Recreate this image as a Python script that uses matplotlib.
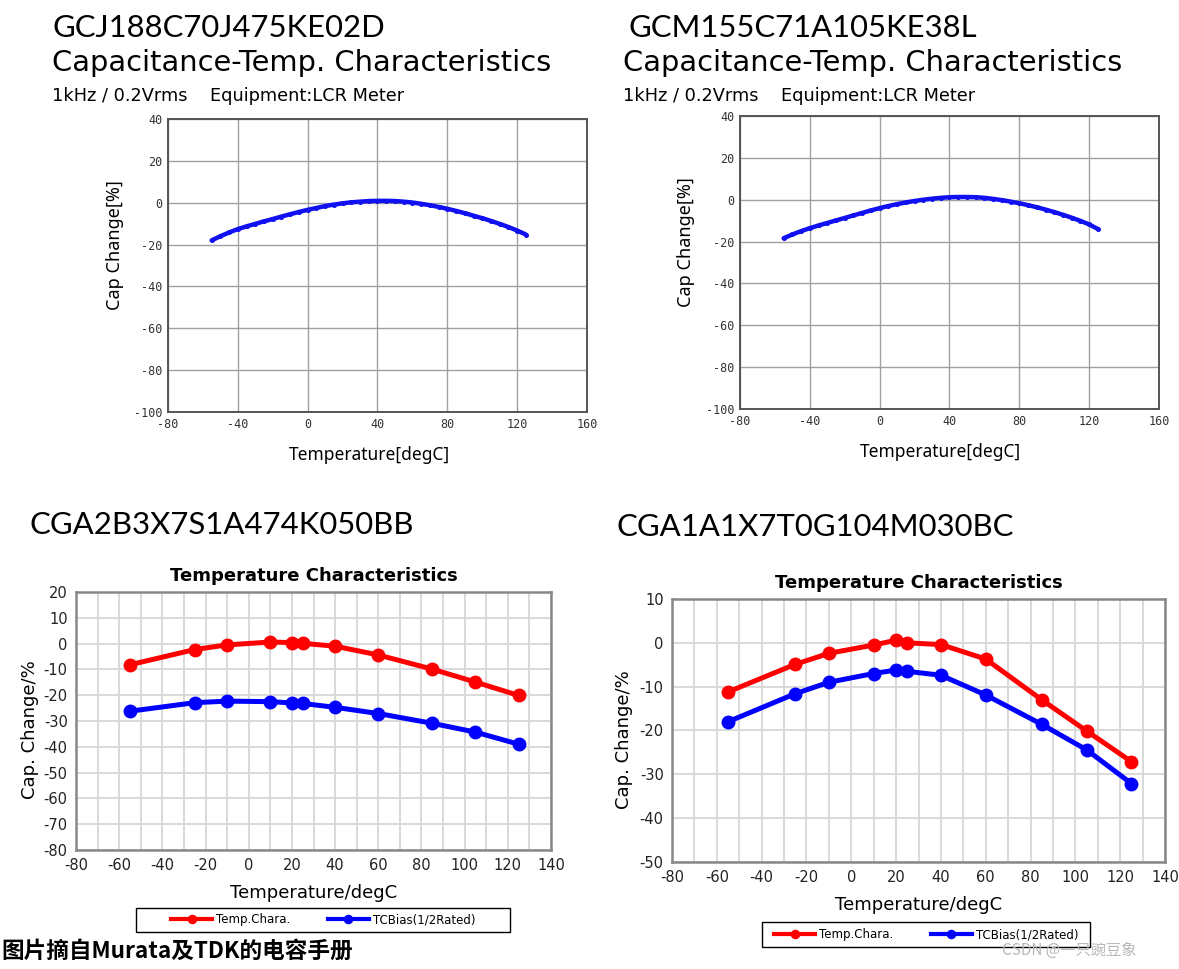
import matplotlib
matplotlib.use("Agg")
import matplotlib.pyplot as plt
from matplotlib.patches import Rectangle
import numpy as np

plt.rcParams['axes.unicode_minus'] = False

W, H = 1179, 969

# ---- data ----
temp_fine = [-55, -50, -45, -40, -35, -30, -25, -20, -15, -10, -5, 0, 5, 10, 15, 20,
             25, 30, 35, 40, 45, 50, 55, 60, 65, 70, 75, 80, 85, 90, 95, 100, 105,
             110, 115, 120, 125]
gcj_change = [-18.0, -16.0, -14.2, -12.6, -11.3, -10.1, -8.9, -7.8, -6.6, -5.5, -4.4,
              -3.4, -2.5, -1.6, -0.9, -0.3, 0.2, 0.5, 0.8, 0.9, 0.9, 0.8, 0.5, 0.1,
              -0.5, -1.2, -2.0, -2.9, -3.9, -5.0, -6.2, -7.4, -8.7, -10.1, -11.6,
              -13.3, -15.2]
gcm_change = [-18.4, -16.6, -15.0, -13.6, -12.3, -11.1, -9.9, -8.7, -7.5, -6.3, -5.1,
              -4.0, -3.0, -2.1, -1.3, -0.6, 0.0, 0.5, 0.9, 1.2, 1.3, 1.3, 1.2, 0.9,
              0.4, -0.2, -0.9, -1.7, -2.6, -3.6, -4.7, -5.9, -7.2, -8.6, -10.1,
              -11.8, -14.0]

temp_pts = [-55, -25, -10, 10, 20, 25, 40, 60, 85, 105, 125]
cga2_temp = [-8.2, -2.3, -0.5, 0.6, 0.4, 0.1, -1.0, -4.4, -9.9, -14.9, -20.1]
cga2_bias = [-26.2, -22.9, -22.3, -22.5, -23.0, -23.2, -24.7, -27.1, -30.9, -34.3, -39.0]
cga1_temp = [-11.2, -4.9, -2.4, -0.5, 0.6, 0.0, -0.4, -3.7, -13.0, -20.1, -27.1]
cga1_bias = [-18.0, -11.6, -9.0, -7.0, -6.2, -6.5, -7.4, -11.9, -18.6, -24.4, -32.1]

top_names = ["GCJ188C70J475KE02D", "GCM155C71A105KE38L"]
bottom_names = ["CGA2B3X7S1A474K050BB", "CGA1A1X7T0G104M030BC"]
legend_labels = ["Temp.Chara.", "TCBias(1/2Rated)"]


def rect(x0, y0, x1, y1):
    return [x0 / W, 1 - y1 / H, (x1 - x0) / W, (y1 - y0) / H]


def ftext(x, y, s, **kw):
    fig.text(x / W, 1 - y / H, s, **kw)


fig = plt.figure(figsize=(W / 100, H / 100), dpi=100)

# ============================================================================
# Murata style (top row)
# ============================================================================
top_boxes = [(168, 119, 587, 412), (740, 116, 1159, 409)]
top_text_x = [52, 623]
top_ylab = [(115, 245), (686, 242)]
top_xlab = [(369, 455), (940, 452)]
top_curves = [gcj_change, gcm_change]
for i in range(2):
    x0, y0, x1, y1 = top_boxes[i]
    ax = fig.add_axes(rect(x0, y0, x1, y1))
    ax.plot(temp_fine, top_curves[i], color='#1010f2', lw=3.2, marker='o', ms=2.6,
            solid_capstyle='round')
    ax.set_xlim(-80, 160)
    ax.set_ylim(-100, 40)
    ax.set_xticks(np.arange(-80, 161, 40))
    ax.set_yticks(np.arange(-100, 41, 20))
    ax.grid(True, color='#a0a0a0', lw=1)
    ax.set_axisbelow(True)
    ax.tick_params(length=0, labelsize=8.5, labelcolor='#333333', pad=4)
    for lab in ax.get_xticklabels() + ax.get_yticklabels():
        lab.set_family('DejaVu Sans Mono')
    for sp in ax.spines.values():
        sp.set_color('#555555')
        sp.set_linewidth(1.4)
    ax.set_ylabel('Cap Change[%]', fontsize=13, family='Noto Sans')
    ax.set_xlabel('Temperature[degC]', fontsize=12.5, family='Noto Sans')
    ax.yaxis.set_label_coords((top_ylab[i][0] - x0) / (x1 - x0),
                              (y1 - top_ylab[i][1]) / (y1 - y0))
    ax.xaxis.set_label_coords((top_xlab[i][0] - x0) / (x1 - x0),
                              (y1 - top_xlab[i][1]) / (y1 - y0))
    ax.xaxis.label.set_va('center')
    ax.yaxis.label.set_va('center')

    tx = top_text_x[i] + (5 if i == 1 else 0)
    ftext(tx, 28, top_names[i], fontsize=22.3, family='Lato', fontweight='normal',
          va='center', ha='left')
    ftext(top_text_x[i], 63, 'Capacitance-Temp. Characteristics', fontsize=20.8,
          family='DejaVu Sans', va='center', ha='left')
    ftext(top_text_x[i], 96, '1kHz / 0.2Vrms    Equipment:LCR Meter', fontsize=12.8,
          family='DejaVu Sans', va='center', ha='left')

# ============================================================================
# TDK style (bottom row)
# ============================================================================
bot_boxes = [(76, 592, 551, 850), (672, 599, 1165, 862)]
bot_ylims = [(-80, 20), (-50, 10)]
bot_name_xy = [(30, 525), (617, 527)]
bot_ylab = [(30, 730), (624, 740)]
bot_legend = [(136, 908, 510, 932), (762, 922, 1090, 947)]
bot_series = [(cga2_temp, cga2_bias), (cga1_temp, cga1_bias)]
for i in range(2):
    x0, y0, x1, y1 = bot_boxes[i]
    ax = fig.add_axes(rect(x0, y0, x1, y1))
    r, b = bot_series[i]
    l1, = ax.plot(temp_pts, r, color='#ff0000', lw=3.6, marker='o', ms=9)
    l2, = ax.plot(temp_pts, b, color='#0000ff', lw=3.6, marker='o', ms=9)
    ax.set_xlim(-80, 140)
    ax.set_ylim(*bot_ylims[i])
    ax.set_xticks(np.arange(-80, 141, 20))
    ax.set_xticks(np.arange(-70, 140, 20), minor=True)
    ax.set_yticks(np.arange(bot_ylims[i][0], bot_ylims[i][1] + 1, 10))
    ax.grid(True, which='both', axis='x', color='#d9d9d9', lw=1.4)
    ax.grid(True, which='major', axis='y', color='#d9d9d9', lw=1.4)
    ax.set_axisbelow(True)
    ax.tick_params(which='both', length=0, labelsize=10.5, labelcolor='#222222', pad=6)
    for sp in ax.spines.values():
        sp.set_color('#888888')
        sp.set_linewidth(1.8)
    ax.set_ylabel('Cap. Change/%', fontsize=13)
    ax.yaxis.set_label_coords((bot_ylab[i][0] - x0) / (x1 - x0),
                              (y1 - bot_ylab[i][1]) / (y1 - y0))
    ax.yaxis.label.set_va('center')
    ax.set_xlabel('Temperature/degC', fontsize=13, labelpad=8)
    ax.set_title('Temperature Characteristics', fontsize=13, fontweight='bold', pad=8)

    # legend: fixed box with the two entries centred inside
    lx0, ly0, lx1, ly1 = bot_legend[i]
    fig.patches.append(Rectangle((lx0 / W, 1 - ly1 / H), (lx1 - lx0) / W,
                                 (ly1 - ly0) / H, transform=fig.transFigure,
                                 fill=False, edgecolor='black', lw=1.0))
    leg = fig.legend([l1, l2], legend_labels, ncol=2, fontsize=8.5,
                     loc='center',
                     bbox_to_anchor=((lx0 + lx1) / 2 / W, 1 - (ly0 + ly1) / 2 / H),
                     frameon=False, handlelength=3.5, markerscale=0.65,
                     columnspacing=3.2, handletextpad=0.3, borderpad=0)
    for ln in leg.get_lines():
        ln.set_linewidth(3.0)

    ftext(bot_name_xy[i][0], bot_name_xy[i][1], bottom_names[i], fontsize=22.4,
          family='Lato', fontweight='normal', va='center', ha='left')

# caption and watermark
ftext(1, 951, '图片摘自Murata及TDK的电容手册', fontsize=16.3, fontweight='bold',
      style='italic', family=['Noto Sans CJK SC', 'DejaVu Sans'],
      va='center', ha='left')
ftext(1002, 950, 'CSDN @一只豌豆象', fontsize=11, color='#b8b8b8',
      family=['Noto Sans CJK SC', 'DejaVu Sans'], va='center', ha='left')

fig.savefig('out.png', dpi=100)
